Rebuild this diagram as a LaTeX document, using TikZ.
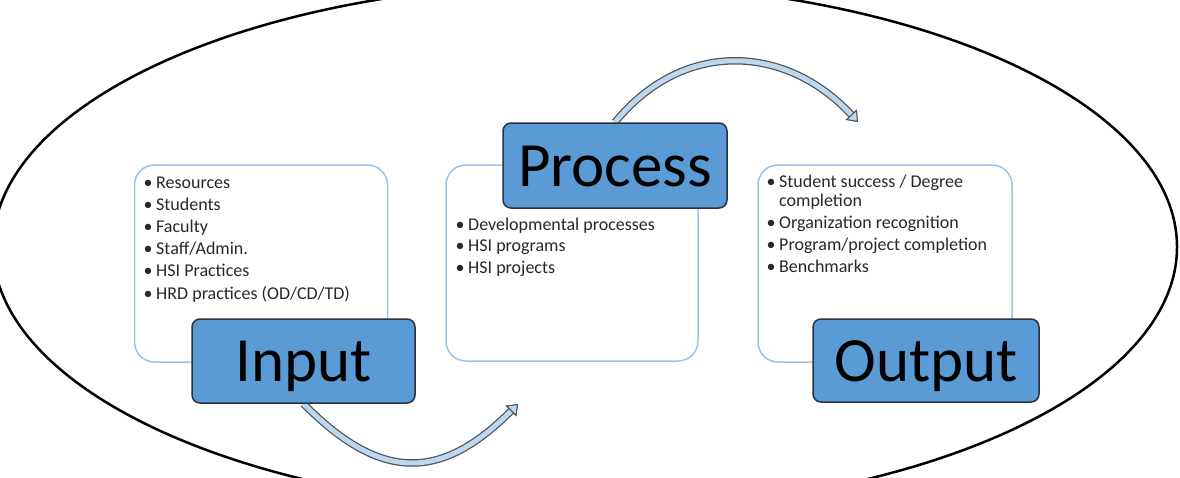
\documentclass[tikz,border=0pt]{standalone}
\usepackage{fontspec}
\setmainfont{Carlito}
\usetikzlibrary{arrows.meta}
\definecolor{labelfill}{RGB}{91,155,213}
\definecolor{labeldraw}{RGB}{40,50,65}
\definecolor{boxdraw}{RGB}{157,195,230}
\definecolor{arrowfill}{RGB}{189,215,238}
\definecolor{arrowdraw}{RGB}{75,85,95}
\definecolor{itemtext}{RGB}{40,40,40}
\begin{document}
\begin{tikzpicture}[x=1pt,y=-1pt,
  cbox/.style={draw=boxdraw, line width=1.5pt, fill=white, rounded corners=20pt, inner sep=0pt},
  lbox/.style={draw=labeldraw, line width=1.5pt, fill=labelfill, rounded corners=8pt, inner sep=0pt,
    font=\fontsize{63}{63}\selectfont, text height=41pt, text depth=0pt},
  item/.style={anchor=base west, inner sep=0pt, font=\fontsize{18}{20}\selectfont, text=itemtext},
  tipshape/.style={-{Triangle[length=10pt,width=15pt,line width=1pt,fill=arrowfill,color=arrowdraw]}},
  flowout/.style={line width=7.5pt, draw=arrowdraw, tipshape},
  flowin/.style={line width=5pt, draw=arrowfill, tipshape},
]
\useasboundingbox (0,0) rectangle (1180,477);
\begin{scope}
  \clip (0,0) rectangle (1180,477);
  \draw[line width=2.5pt] (585,247) ellipse [x radius=592pt, y radius=264pt];
\end{scope}

% content boxes
\node[cbox, minimum width=253pt, minimum height=197pt] (inbox) at (261,263.5) {};
\node[cbox, minimum width=252pt, minimum height=196pt] (procbox) at (572,263) {};
\node[cbox, minimum width=254pt, minimum height=197pt] (outbox) at (885,263.5) {};

% label box positions
\node[lbox, minimum width=223pt, minimum height=84pt, fill=none, draw=none] (inlabel) at (303.5,361) {};
\node[lbox, minimum width=224pt, minimum height=85pt, fill=none, draw=none] (proclabel) at (615,165.5) {};

% arrow end points
\coordinate (a1e) at (518,404);
\coordinate (a2e) at (858,122);

% curved arrows
\draw[flowout] (inlabel.south) .. controls (380,481) and (440,482) .. (a1e);
\draw[flowin]  (inlabel.south) .. controls (380,481) and (440,482) .. (a1e);
\draw[flowout] (proclabel.north) .. controls (684,38) and (787,45) .. (a2e);
\draw[flowin]  (proclabel.north) .. controls (684,38) and (787,45) .. (a2e);

% labels
\node[lbox, minimum width=223pt, minimum height=84pt] (inputlbl) at (303.5,361) {Input};
\node[lbox, minimum width=224pt, minimum height=85pt] (processlbl) at (615,165.5) {Process};
\node[lbox, minimum width=226pt, minimum height=83pt] (outputlbl) at (926,360.5) {Output};

% items
\foreach \t [count=\i] in {Resources, Students, Faculty, Staff/Admin., HSI Practices, HRD practices (OD/CD/TD)}
  \node[item] (in\i) at (156,{188+22.2*(\i-1)}) {\llap{\textbullet\hspace{3.5pt}}\t};
\foreach \t [count=\i] in {Developmental processes, HSI programs, HSI projects}
  \node[item] (pr\i) at (468,{230+21.5*(\i-1)}) {\llap{\textbullet\hspace{3.5pt}}\t};
\node[item] (out1) at (779,187) {\llap{\textbullet\hspace{3.5pt}}Student success / Degree};
\node[item] (out1b) at (779,206) {completion};
\node[item] (out2) at (779,228) {\llap{\textbullet\hspace{3.5pt}}Organization recognition};
\node[item] (out3) at (779,250) {\llap{\textbullet\hspace{3.5pt}}Program/project completion};
\node[item] (out4) at (779,272) {\llap{\textbullet\hspace{3.5pt}}Benchmarks};
\end{tikzpicture}
\end{document}
